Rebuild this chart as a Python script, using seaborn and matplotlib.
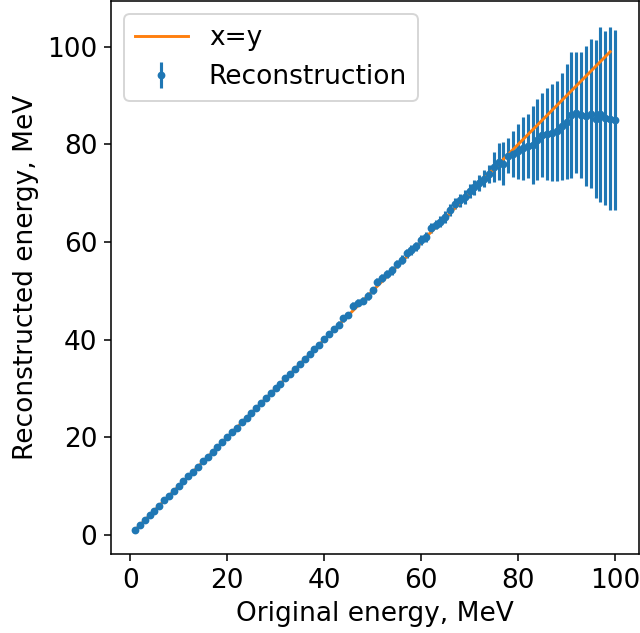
import numpy as np
import matplotlib
matplotlib.use("Agg")
import matplotlib.pyplot as plt
import seaborn as sns

# ---- data ----
orig_energy = list(range(1, 101))

reco_energy = [
    1.1, 2.0, 3.0, 4.1, 5.0, 6.0, 7.1, 8.0, 9.0, 10.1,
    11.0, 12.1, 13.0, 14.0, 15.1, 16.0, 17.0, 18.1, 19.0, 20.0,
    21.1, 22.0, 23.1, 24.0, 25.0, 26.1, 27.1, 28.0, 29.0, 30.1,
    31.0, 32.1, 33.0, 34.0, 35.1, 36.1, 37.0, 38.1, 39.0, 40.1,
    41.2, 42.3, 43.1, 44.4, 45.0, 46.9, 47.6, 48.0, 48.9, 50.1,
    51.8, 52.6, 53.4, 54.2, 55.5, 56.4, 57.7, 58.4, 59.2, 60.4,
    61.0, 62.9, 63.6, 64.2, 65.1, 66.6, 67.9, 68.6, 69.2, 70.4,
    71.2, 72.1, 73.0, 74.0, 75.4, 76.5, 76.1, 77.7, 78.1, 78.6,
    79.2, 79.7, 79.9, 81.0, 82.0, 82.1, 82.4, 82.8, 83.7, 84.7,
    86.0, 86.5, 86.0, 85.8, 86.3, 85.3, 86.2, 85.4, 85.3, 85.0,
]

reco_error = [
    0.10, 0.12, 0.10, 0.15, 0.12, 0.15, 0.18, 0.15, 0.20, 0.18,
    0.20, 0.22, 0.20, 0.25, 0.22, 0.25, 0.28, 0.25, 0.30, 0.28,
    0.30, 0.32, 0.35, 0.32, 0.35, 0.38, 0.35, 0.40, 0.38, 0.40,
    0.42, 0.40, 0.45, 0.42, 0.48, 0.45, 0.50, 0.48, 0.52, 0.50,
    0.60, 0.58, 0.65, 0.70, 0.62, 0.75, 0.78, 0.70, 0.80, 0.75,
    0.80, 0.85, 0.80, 0.88, 0.90, 0.92, 0.88, 0.95, 0.92, 1.00,
    1.05, 1.10, 1.00, 1.15, 1.20, 1.25, 1.20, 1.35, 1.40, 1.45,
    1.55, 1.60, 1.75, 1.90, 3.0, 3.8, 4.4, 3.6, 4.7, 5.6,
    6.5, 6.6, 7.9, 8.3, 8.6, 9.4, 9.9, 10.2, 10.9, 11.8,
    12.9, 12.4, 12.9, 14.4, 15.3, 16.2, 17.9, 17.8, 18.7, 18.4,
]

line_x = [1, 99]
line_y = [1, 99]

x_ticks = [0, 20, 40, 60, 80, 100]
y_ticks = [0, 20, 40, 60, 80, 100]

# ---- figure ----
FS = 13.6
plt.rcParams["font.size"] = FS
W, H, DPI = 640, 633, 140
fig = plt.figure(figsize=(W / DPI, H / DPI), dpi=DPI)
left, right, top, bottom = 111, 639, 1, 554
ax = fig.add_axes([left / W, (H - bottom) / H, (right - left) / W, (bottom - top) / H])

ax.errorbar(orig_energy, reco_energy, yerr=reco_error, fmt=".",
            color="#1f77b4", elinewidth=1.6, label="Reconstruction")
sns.lineplot(x=line_x, y=line_y, color="#ff7f0e", label="x=y", ax=ax)

ax.set_xlim(-3.95, 104.95)
ax.set_ylim(-3.9, 109.4)
ax.set_xticks(x_ticks)
ax.set_yticks(y_ticks)
ax.tick_params(labelsize=FS)
ax.set_xlabel("Original energy, MeV", fontsize=FS)
ax.set_ylabel("Reconstructed energy, MeV", fontsize=FS)
ax.legend(loc="upper left", fontsize=FS)

fig.savefig("out.png", dpi=DPI)
